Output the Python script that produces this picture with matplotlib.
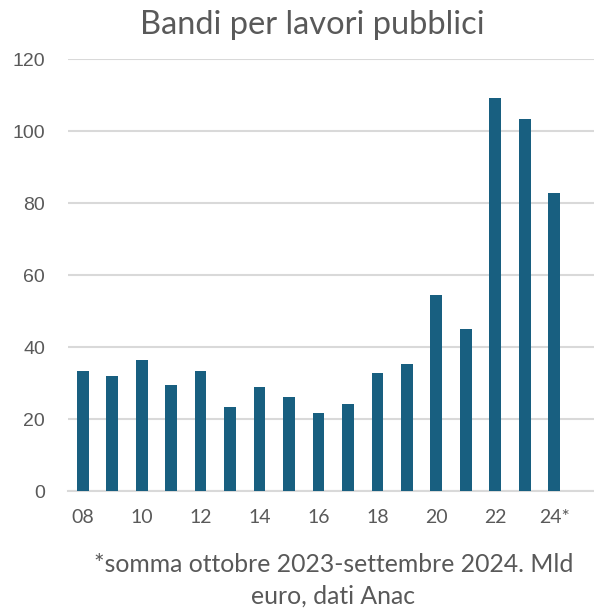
import matplotlib
matplotlib.use("Agg")
import matplotlib.pyplot as plt
import numpy as np

# dati: bandi per lavori pubblici, mld euro (Anac)
anni = ["08", "09", "10", "11", "12", "13", "14", "15", "16",
        "17", "18", "19", "20", "21", "22", "23", "24*"]
valori = [33.3, 31.9, 36.5, 29.5, 33.3, 23.2, 28.8, 26.0, 21.8,
          24.1, 32.9, 35.3, 54.4, 45.1, 109.2, 103.3, 82.8]
y_ticks = [0, 20, 40, 60, 80, 100, 120]

BLU = "#185f80"
GRIGIO = "#595959"
GRIGLIA = "#d9d9d9"

plt.rcParams['font.family'] = ['Lato', 'DejaVu Sans']

fig = plt.figure(figsize=(5.94, 6.10), dpi=100)
ax = fig.add_axes([68 / 594, 1 - 491 / 610, 1 - 68 / 594, (491 - 59) / 610])

x = np.arange(len(anni))
ax.bar(x, valori, width=0.4, color=BLU, zorder=3)

ax.set_ylim(0, 120)
ax.set_xlim(-0.5, 17.35)
ax.set_yticks(y_ticks)
ax.set_yticklabels([str(v) for v in y_ticks], fontsize=14, color=GRIGIO,
                   family='Liberation Sans')
ax.set_xticks(x[::2])
ax.set_xticklabels(anni[::2], fontsize=14, color=GRIGIO)
ax.tick_params(axis='both', length=0)
ax.tick_params(axis='y', pad=16.5)
ax.tick_params(axis='x', pad=13)

ax.grid(axis='y', color=GRIGLIA, linewidth=1.5, zorder=0)
for s in ['top', 'right', 'left']:
    ax.spines[s].set_visible(False)
ax.spines['bottom'].set_color(GRIGLIA)
ax.spines['bottom'].set_linewidth(1.5)

fig.text(0.525, 1 - 25 / 610, "Bandi per lavori pubblici", ha='center',
         va='center', fontsize=23.5, color=GRIGIO)
fig.text(0.561, 1 - 564 / 610, "*somma ottobre 2023-settembre 2024. Mld",
         ha='center', va='center', fontsize=17.8, color=GRIGIO)
fig.text(0.561, 1 - 596 / 610, "euro, dati Anac",
         ha='center', va='center', fontsize=17.8, color=GRIGIO)

fig.savefig("out.png", dpi=100, facecolor='white')
